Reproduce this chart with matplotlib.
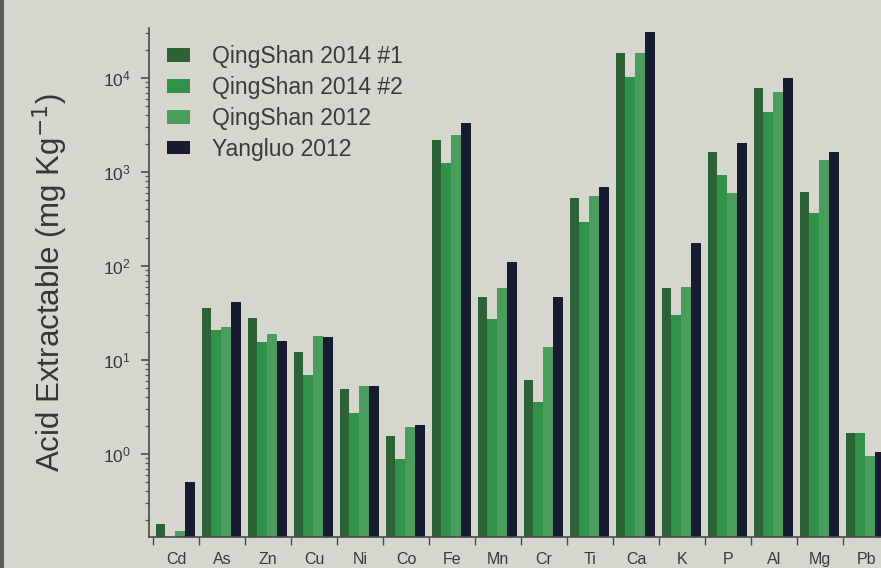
import matplotlib
matplotlib.use("Agg")
import matplotlib.pyplot as plt
import numpy as np
from matplotlib.patches import Patch, Rectangle
from matplotlib.ticker import LogLocator, FixedLocator, NullFormatter

plt.rcParams['font.family'] = ['Liberation Sans', 'DejaVu Sans']

# Acid-extractable element concentrations (mg/kg)
categories = ['Cd', 'As', 'Zn', 'Cu', 'Ni', 'Co', 'Fe', 'Mn', 'Cr', 'Ti',
              'Ca', 'K', 'P', 'Al', 'Mg', 'Pb']
qingshan_2014_1 = [0.18, 35.5, 27.8, 12.3, 4.9, 1.57, 2190, 47, 6.1, 525,
                   18300, 58, 1645, 7770, 617, 1.66]
qingshan_2014_2 = [0.12, 20.9, 15.7, 6.9, 2.7, 0.88, 1240, 27, 3.6, 297,
                   10300, 30, 930, 4370, 363, 1.66]
qingshan_2012 = [0.15, 22.6, 18.9, 18.0, 5.3, 1.95, 2475, 58, 13.7, 560,
                 18300, 60, 593, 7150, 1342, 0.95]
yangluo_2012 = [0.50, 41.7, 16.1, 17.4, 5.3, 2.04, 3300, 111, 47, 690,
                31100, 174, 2020, 9930, 1645, 1.05]

series_labels = ['QingShan 2014 #1', 'QingShan 2014 #2', 'QingShan 2012', 'Yangluo 2012']
series_values = [qingshan_2014_1, qingshan_2014_2, qingshan_2012, yangluo_2012]
series_colors = ['#2c6236', '#31924a', '#4a9d5c', '#171c30']

bg = '#d6d6cf'
fig = plt.figure(figsize=(8.81, 5.68), dpi=100, facecolor=bg)
ax = fig.add_axes([149 / 881, 1 - 537 / 568, (881 - 149) / 881, (537 - 28) / 568])
ax.set_facecolor(bg)

x = np.arange(len(categories))
width = 0.212
for k, (vals, col) in enumerate(zip(series_values, series_colors)):
    ax.bar(x + (k - 1.5) * width - 0.02, vals, width=width, bottom=1e-3,
           color=col, edgecolor='none', zorder=2)

ax.set_yscale('log')
ax.set_ylim(0.131, 34000)
ax.set_xlim(-0.587, 15.326)

# y axis: decade ticks with minor ticks
ax.yaxis.set_minor_locator(LogLocator(base=10, subs=np.arange(2, 10), numticks=20))
ax.yaxis.set_minor_formatter(NullFormatter())
ax.set_yticks([1, 10, 100, 1000, 10000])
ax.tick_params(axis='y', which='major', direction='out', length=6, width=1.2,
               color='#4a4a4a', labelsize=12.5, labelcolor='#3a3a3a', pad=7)
ax.tick_params(axis='y', which='minor', direction='out', length=3, width=0.9,
               color='#5a5a5a')

# x axis: marks at group boundaries, labels at group centres
ax.xaxis.set_major_locator(FixedLocator(np.arange(len(categories) + 1) - 0.5))
ax.xaxis.set_major_formatter(NullFormatter())
ax.xaxis.set_minor_locator(FixedLocator(x))
ax.set_xticklabels(categories, minor=True)
ax.tick_params(axis='x', which='major', direction='out', length=6, width=1.0,
               color='#4a4a4a')
ax.tick_params(axis='x', which='minor', length=0, labelsize=11.5,
               labelcolor='#3a3a3a', pad=11)

for side in ('top', 'right'):
    ax.spines[side].set_visible(False)
for side in ('left', 'bottom'):
    ax.spines[side].set_color('#4a4a4a')
    ax.spines[side].set_linewidth(1.2)

ax.set_ylabel('Acid Extractable (mg Kg$^{-1}$)', fontsize=22.5, color='#363636',
              labelpad=24)

handles = [Patch(facecolor=c, edgecolor='none') for c in series_colors]
ax.legend(handles, series_labels, loc='upper left', bbox_to_anchor=(0.012, 0.984),
          frameon=False, fontsize=16.5, handlelength=1.0, handleheight=0.55,
          handletextpad=0.95, labelspacing=0.34, borderaxespad=0.0,
          labelcolor='#3a3a3a')

# dark strip along the left edge of the sheet
fig.patches.append(Rectangle((0, 0), 4 / 881, 1, transform=fig.transFigure,
                             facecolor='#5a5a58', edgecolor='none'))

fig.savefig('out.png', dpi=100, facecolor=bg)
